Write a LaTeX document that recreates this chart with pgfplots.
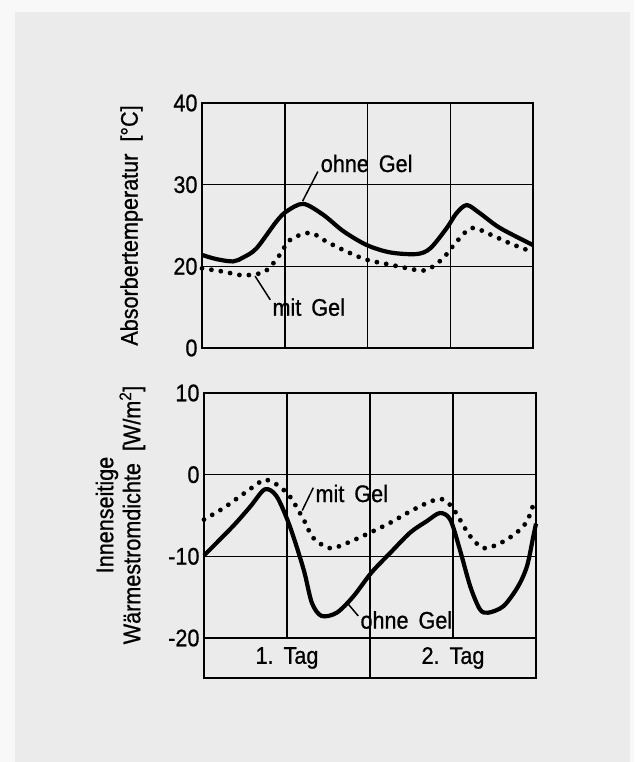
\documentclass[border=0pt]{standalone}
\usepackage{fontspec}
\setmainfont{Liberation Sans}[FakeStretch=0.9, FakeBold=0.8]
\usepackage{pgfplots}
\pgfplotsset{compat=1.18}
\definecolor{page}{HTML}{F8F8F8}
\definecolor{panel}{HTML}{EBEBEB}
\newcommand\lab{\fontsize{24}{27}\selectfont}

\pgfplotsset{
    diag/.style={
        scale only axis,
        width=332pt, height=245pt,
        xmin=0, xmax=48,
        xtick={12,24,36}, xticklabels={},
        grid=major,
        grid style={black, line width=1.5pt},
        axis line style={black, line width=2.8pt},
        major tick length=0pt,
        tick label style={font=\lab},
        yticklabel style={xshift=-1pt},
        label style={font=\lab},
        clip=false,
    },
    ohne/.style={black, line width=4.2pt, smooth, tension=0.5, mark=none},
    mit/.style={black, line width=4.8pt, smooth, tension=0.5, mark=none,
        line cap=round, dash pattern=on 0pt off 9.5pt},
}
\tikzset{leader/.style={black, line width=1.5pt}}

\begin{document}
\begin{tikzpicture}[x=1pt,y=1pt]
\fill[page] (0,0) rectangle (634,762);
\fill[panel] (15,0) rectangle (630,750);

% upper diagram: absorber temperature
\begin{axis}[diag,
    at={(202pt,414pt)}, anchor=south west, width=331pt,
    ymin=10, ymax=40,
    ytick={10,20,30,40}, yticklabels={0,20,30,40},
    ylabel={Absorbertemperatur\ \ [°C]},
    ylabel style={at={(axis description cs:-0.213,0.5)}, anchor=center},
]
\addplot[ohne] coordinates {
    (0,21.4) (2,20.9) (4.5,20.6) (6,21.1) (7.9,22.2) (10.8,25.5) (12.3,26.75)
    (14.7,27.65) (17.6,26.3) (20.5,24.3) (23.9,22.6) (27.3,21.7) (31.1,21.5)
    (33.1,22.2) (35.5,24.7) (36.9,26.5) (38.4,27.5) (40.3,26.5) (43.2,24.7)
    (48,22.6) };
\addplot[mit] coordinates {
    (0,19.75) (3.1,19.35) (6,18.9) (9.1,19.35) (11.1,21.2) (12.8,23.25)
    (15.7,24.1) (18.1,23.0) (21,21.8) (23.9,20.8) (27.3,20.2) (31.1,19.55)
    (32.6,19.55) (34.0,20.3) (35.2,21.2) (36.9,23.0) (39.1,24.7) (41.8,23.9)
    (44.7,22.8) (47.8,21.8) };
\draw[leader] (axis cs:16.8,31.6) -- (axis cs:14.6,28.0);
\node[font=\lab, anchor=west, inner sep=0pt] at (axis cs:17.2,32.6) {ohne\ \,Gel};
\draw[leader] (axis cs:9.9,15.9) -- (axis cs:7.7,18.8);
\node[font=\lab, anchor=west, inner sep=0pt] at (axis cs:10.2,15.0) {mit\ \,Gel};
\end{axis}

% lower diagram: heat flux density
\begin{axis}[diag,
    at={(204pt,124pt)}, anchor=south west,
    ymin=-20, ymax=10,
    ytick={-20,-10,0,10}, yticklabels={-20,-10,0,10},
    ylabel={Innenseitige\\Wärmestromdichte\ \ [W/m\textsuperscript{2}]},
    ylabel style={at={(axis description cs:-0.2515,0.502)}, anchor=center, align=center},
]
\addplot[ohne] coordinates {
    (0,-9.9) (4.2,-6.3) (6.7,-3.9) (8.8,-1.8) (10.5,-2.65) (12.4,-6.3)
    (14.4,-11.6) (15.6,-15.7) (17.0,-17.3) (19.2,-16.9) (21.6,-14.9)
    (24.2,-12.0) (26.9,-9.6) (29.8,-7.1) (32.2,-5.7) (34.1,-4.7) (35.6,-5.5)
    (37,-9.2) (38.5,-13.7) (39.9,-16.5) (41.1,-16.9) (43.3,-16.1) (45.4,-13.7)
    (46.7,-11.2) (47.6,-7.6) (48,-6.0) };
\addplot[mit] coordinates {
    (0,-5.5) (2.8,-4.1) (5.2,-2.65) (7.6,-1.2) (8.8,-0.6) (10.5,-1.2)
    (12.4,-2.65) (14.4,-5.5) (15.8,-7.75) (18.2,-9.0) (20.6,-8.4) (24,-7.1)
    (26.9,-5.9) (29.8,-4.5) (32.7,-3.3) (34.4,-3.0) (35.8,-3.9) (37,-5.5)
    (38.5,-7.55) (40.4,-9.0) (42.8,-8.4) (45.2,-7.1) (46.7,-5.7) (47.6,-3.7) };
\draw[leader] (axis cs:15.8,-1.6) -- (axis cs:14.2,-4.4);
\node[font=\lab, anchor=west, inner sep=0pt] at (axis cs:16.1,-2.3) {mit\ \,Gel};
\draw[leader] (axis cs:22.3,-17.3) -- (axis cs:20.9,-15.9);
\node[font=\lab, anchor=west, inner sep=0pt] at (axis cs:22.6,-17.8) {ohne\ \,Gel};
% day row below the diagram
\draw[black, line width=2.8pt, line join=miter]
    (axis cs:0,-20) -- ([yshift=-40pt]axis cs:0,-20)
    -- ([yshift=-40pt]axis cs:48,-20) -- (axis cs:48,-20);
\draw[black, line width=2.2pt] (axis cs:24,-20) -- ([yshift=-40pt]axis cs:24,-20);
\node[font=\lab] at ([yshift=-20pt]axis cs:12,-20) {1.\ \,Tag};
\node[font=\lab] at ([yshift=-20pt]axis cs:36,-20) {2.\ \,Tag};
\end{axis}

\pgfresetboundingbox
\path (0,0) rectangle (634,762);
\end{tikzpicture}
\end{document}
